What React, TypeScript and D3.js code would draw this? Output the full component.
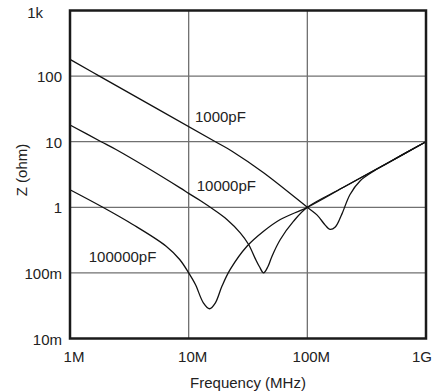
import React from "react";
import * as d3 from "d3";

const W = 445;
const H = 391;

const xTicks = [1e6, 1e7, 1e8, 1e9];
const xTickLabels = ["1M", "10M", "100M", "1G"];
const yTicks = [0.01, 0.1, 1, 10, 100, 1000];
const yTickLabels = ["10m", "100m", "1", "10", "100", "1k"];

// frequency (Hz), impedance (ohm)
const freq1000 = [1e6, 1.77e6, 16.8e6, 23.2e6, 42.8e6, 100e6, 121e6, 142e6, 155e6, 172e6, 195e6, 229e6, 278e6, 362e6, 471e6, 700e6, 1e9];
const z1000 = [180, 100, 10, 7.16, 3.36, 1.0, 0.76, 0.53, 0.46, 0.5, 0.78, 1.57, 2.52, 3.55, 4.65, 7.0, 10];

const freq10000 = [1e6, 1.83e6, 2.44e6, 8.47e6, 10e6, 12.5e6, 16.2e6, 21e6, 27.2e6, 32e6, 36.4e6, 39.5e6, 42.8e6, 46.5e6, 50.4e6, 59.2e6, 76.6e6, 100e6, 200e6, 500e6, 1e9];
const z10000 = [18, 10, 7.6, 1.98, 1.63, 1.27, 0.925, 0.652, 0.408, 0.271, 0.165, 0.124, 0.1, 0.124, 0.18, 0.323, 0.615, 1.0, 2.0, 5.0, 10];

const freq100000 = [1e6, 1.89e6, 3.38e6, 6.46e6, 8.4e6, 10e6, 11.4e6, 13.3e6, 15e6, 16.8e6, 19.1e6, 22.4e6, 31e6, 42.8e6, 59.2e6, 100e6, 200e6, 500e6, 1e9];
const z100000 = [1.85, 1.0, 0.547, 0.255, 0.16, 0.1, 0.0665, 0.035, 0.0284, 0.035, 0.063, 0.113, 0.255, 0.432, 0.652, 1.0, 2.0, 5.0, 10];

const seriesNames = ["1000pF", "10000pF", "100000pF"];
const seriesFreqs = [freq1000, freq10000, freq100000];
const seriesZ = [z1000, z10000, z100000];
const labelFreq = [11.3e6, 11.7e6, 1.44e6];
const labelZ = [20, 1.79, 0.147];

const FONT = "'Liberation Sans', Arial, Helvetica, sans-serif";

export default function App() {
  const left = 70, right = 426, top = 10.5, bottom = 338.5;
  const x = d3.scaleLog().domain([1e6, 1e9]).range([left, right]);
  const y = d3.scaleLog().domain([0.01, 1000]).range([bottom, top]);
  const line = d3
    .line<[number, number]>()
    .x((d) => x(d[0]))
    .y((d) => y(d[1]))
    .curve(d3.curveCatmullRom.alpha(0.5));

  const gridColor = "#707070";
  const textColor = "#222";
  const fs = 15;

  return (
    <svg
      width={W}
      height={H}
      style={{ position: "absolute", left: 0, top: 0, background: "#fff" }}
    >
      <rect x={0} y={0} width={W} height={H} fill="#fff" />
      {xTicks.slice(1, -1).map((t) => (
        <line key={"gx" + t} x1={x(t)} x2={x(t)} y1={top} y2={bottom} stroke={gridColor} strokeWidth={1.3} />
      ))}
      {yTicks.slice(1, -1).map((t) => (
        <line key={"gy" + t} x1={left} x2={right} y1={y(t)} y2={y(t)} stroke={gridColor} strokeWidth={1.3} />
      ))}
      {seriesNames.map((n, i) => (
        <path
          key={n}
          d={line(seriesFreqs[i].map((f, j) => [f, seriesZ[i][j]] as [number, number])) || ""}
          fill="none"
          stroke="#111"
          strokeWidth={1.3}
        />
      ))}
      <rect x={left} y={top} width={right - left} height={bottom - top} fill="none" stroke="#1a1a1a" strokeWidth={2.5} />
      {seriesNames.map((n, i) => (
        <text key={"l" + n} x={x(labelFreq[i])} y={y(labelZ[i])} fontFamily={FONT} fontSize={fs} fill={textColor}>
          {n}
        </text>
      ))}
      {xTicks.map((t, i) => {
        const last = i === xTicks.length - 1;
        return (
          <text
            key={"xt" + t}
            x={last ? x(t) + 6 : x(t) + 4}
            y={361.5}
            textAnchor={last ? "end" : "middle"}
            fontFamily={FONT}
            fontSize={fs}
            fill={textColor}
          >
            {xTickLabels[i]}
          </text>
        );
      })}
      {yTicks.map((t, i) => {
        const last = i === yTicks.length - 1;
        return (
          <text
            key={"yt" + t}
            x={last ? 43 : 62}
            y={y(t) + (last ? 7.5 : 6)}
            textAnchor="end"
            fontFamily={FONT}
            fontSize={fs}
            fill={textColor}
          >
            {yTickLabels[i]}
          </text>
        );
      })}
      <text x={(left + right) / 2} y={388} textAnchor="middle" fontFamily={FONT} fontSize={fs} fill={textColor}>
        Frequency (MHz)
      </text>
      <text
        transform={`translate(26.5,170) rotate(-90)`}
        textAnchor="middle"
        fontFamily={FONT}
        fontSize={fs}
        fill={textColor}
      >
        Z (ohm)
      </text>
    </svg>
  );
}
